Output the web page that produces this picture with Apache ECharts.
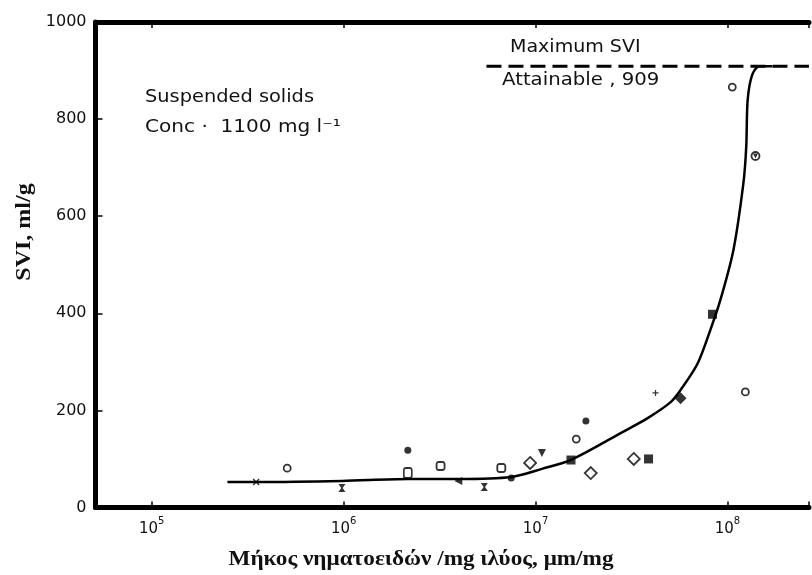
<!DOCTYPE html>
<html><head><meta charset="utf-8">
<script src="https://cdn.jsdelivr.net/npm/echarts@6/dist/echarts.min.js"></script>
<style>html,body{margin:0;padding:0;background:#fff}#c{width:812px;height:575px}</style>
</head><body><div id="c"></div>
<script>
// ---- data (x: filament length per mg sludge, µm/mg ; y: SVI, ml/g) ----
const yTicks = [0, 200, 400, 600, 800, 1000];
const xTickExponents = [5, 6, 7, 8];
const maxSVI = 909;
const maxLineX = [5.55e6, 2.66e8];

const curveX = [2.48e5, 3.51e5, 9.8e5, 2.16e6, 3.96e6, 7.46e6, 1.09e7, 1.53e7, 2.92e7, 3.84e7, 5.06e7, 5.70e7, 6.98e7, 8.15e7, 9.18e7, 1.074e8, 1.211e8, 1.253e8, 1.275e8, 1.346e8, 1.466e8, 1.71e8];
const curveY = [52.5, 52.5, 54.6, 58.7, 58.7, 62.8, 80, 98, 158, 184, 217, 242, 296, 366, 427, 530, 668, 743, 840, 891, 909, 909];

const openCircle = [[5.08e5, 81], [1.63e7, 141], [1.24e8, 238], [1.06e8, 866]];
const openOval = [[2.16e6, 71]];
const filledDot = [[2.16e6, 118], [7.47e6, 60.8], [1.83e7, 178]];
const openSquare = [[3.2e6, 85.5], [6.63e6, 81.4]];
const openDiamond = [[9.37e6, 91.7], [1.94e7, 71], [3.25e7, 100]];
const filledSquare = [[1.53e7, 97.8], [3.88e7, 100], [8.36e7, 398]];
const filledDiamond = [[5.70e7, 225]];
const hourglass = [[9.8e5, 40], [5.41e6, 42]];
const crossX = [[3.5e5, 52.5]];
const plusMark = [[4.22e7, 236]];
const triDown = [[1.08e7, 112]];
const triLeft = [[3.96e6, 54.6]];
const circTri = [[1.40e8, 724]];

// ---- chart ----
const xMin = Math.pow(10, 4.707);
const xMax = Math.pow(10, 8.425);
const chart = echarts.init(document.getElementById('c'), null, {renderer: 'canvas'});

const HOUR = 'path://M0,0 L10,0 L6,5 L10,10 L0,10 L4,5 Z';
const XPATH = 'path://M0,1.5 L1.5,0 L5,3.5 L8.5,0 L10,1.5 L6.5,5 L10,8.5 L8.5,10 L5,6.5 L1.5,10 L0,8.5 L3.5,5 Z';
const PLUS = 'path://M4,0 L6,0 L6,4 L10,4 L10,6 L6,6 L6,10 L4,10 L4,6 L0,6 L0,4 L4,4 Z';

const openStyle = {color: '#fff', borderColor: '#000', borderWidth: 1.8};
const fillStyle = {color: '#000'};

function sc(data, symbol, size, style, extra) {
  return Object.assign({type: 'scatter', data: data, symbol: symbol, symbolSize: size,
    itemStyle: style, z: 5, silent: true}, extra || {});
}

function xLabel(v) {
  const l = Math.log10(v);
  const e = Math.round(l);
  if (Math.abs(l - e) > 1e-6 || xTickExponents.indexOf(e) < 0) return '';
  return '{b|10}{s|' + e + '}';
}

function txt(x, y, text, font, sx, extra) {
  return Object.assign({type: 'text', x: x, y: y, scaleX: sx, z: 10,
    style: {text: text, font: font, fill: '#111', textAlign: 'left', textVerticalAlign: 'middle'}}, extra || {});
}

const option = {
  backgroundColor: '#fff',
  animation: false,
  grid: {left: 95.5, right: 0, top: 22, bottom: 67.5, containLabel: false},
  xAxis: [{
    type: 'log', logBase: 10, min: xMin, max: xMax,
    axisLine: {show: true, lineStyle: {color: '#000', width: 5}},
    axisTick: {show: true, inside: true, length: 6, lineStyle: {color: '#000', width: 1.5}},
    splitLine: {show: false},
    axisLabel: {
      margin: 9, formatter: xLabel,
      rich: {
        b: {fontSize: 15, fontFamily: 'DejaVu Sans', color: '#111', lineHeight: 20, verticalAlign: 'bottom'},
        s: {fontSize: 10, fontFamily: 'DejaVu Sans', color: '#111', lineHeight: 20, verticalAlign: 'top'}
      }
    }
  }, {
    type: 'log', logBase: 10, min: xMin, max: xMax, position: 'top',
    axisLine: {show: true, lineStyle: {color: '#000', width: 5}},
    axisTick: {show: true, inside: true, length: 6, lineStyle: {color: '#000', width: 1.5}},
    splitLine: {show: false},
    axisLabel: {show: false}
  }],
  yAxis: {
    type: 'value', min: yTicks[0], max: yTicks[yTicks.length - 1], interval: 200,
    axisLine: {show: true, lineStyle: {color: '#000', width: 5}},
    axisTick: {show: true, inside: true, length: 7, lineStyle: {color: '#000', width: 1.5}},
    splitLine: {show: false},
    axisLabel: {margin: 9, fontSize: 16, fontFamily: 'DejaVu Sans', color: '#111', formatter: v => String(v)}
  },
  series: [
    {type: 'line', data: curveX.map((x, i) => [x, curveY[i]]), smooth: 0.3, symbol: 'none',
      lineStyle: {color: '#000', width: 2.5}, z: 3, silent: true},
    {type: 'line', data: maxLineX.map(x => [x, maxSVI]), symbol: 'none',
      lineStyle: {color: '#000', width: 3, type: [15, 7]}, z: 3, silent: true},
    sc(openCircle, 'circle', 7, openStyle),
    sc(openOval, 'roundRect', [8, 10], openStyle),
    sc(filledDot, 'circle', 7, fillStyle),
    sc(openSquare, 'roundRect', 8, openStyle),
    sc(openDiamond, 'diamond', 12, openStyle),
    sc(filledSquare, 'rect', 9, fillStyle),
    sc(filledDiamond, 'diamond', 12, fillStyle),
    sc(hourglass, HOUR, [7, 8], fillStyle),
    sc(crossX, XPATH, 7, fillStyle),
    sc(plusMark, PLUS, 6, fillStyle),
    sc(triDown, 'triangle', 8, fillStyle, {symbolRotate: 180}),
    sc(triLeft, 'triangle', 8, fillStyle, {symbolRotate: 90}),
    sc(circTri, 'circle', 8, openStyle),
    sc(circTri, 'triangle', 5, fillStyle, {symbolRotate: 180, z: 6})
  ],
  graphic: [
    {type: 'text', x: 25, y: 232, rotation: Math.PI / 2, scaleX: 1.2, z: 10,
      style: {text: 'SVI, ml/g', font: 'bold 20px "Liberation Serif"', fill: '#111', textAlign: 'center', textVerticalAlign: 'middle'}},
    {type: 'text', x: 421, y: 560, scaleX: 1.16, z: 10,
      style: {text: 'Μήκος νηματοειδών /mg ιλύος, μm/mg', font: 'bold 20px "Liberation Serif"', fill: '#111', textAlign: 'center', textVerticalAlign: 'middle'}},
    txt(145, 98, 'Suspended solids', '17px "DejaVu Sans"', 1.14),
    txt(145, 128, 'Conc ·  1100 mg l⁻¹', '17px "DejaVu Sans"', 1.18),
    txt(510, 48, 'Maximum SVI', '17px "DejaVu Sans"', 1.12),
    txt(502, 81, 'Attainable , 909', '17px "DejaVu Sans"', 1.16)
  ]
};
chart.setOption(option);
</script>
</body></html>
